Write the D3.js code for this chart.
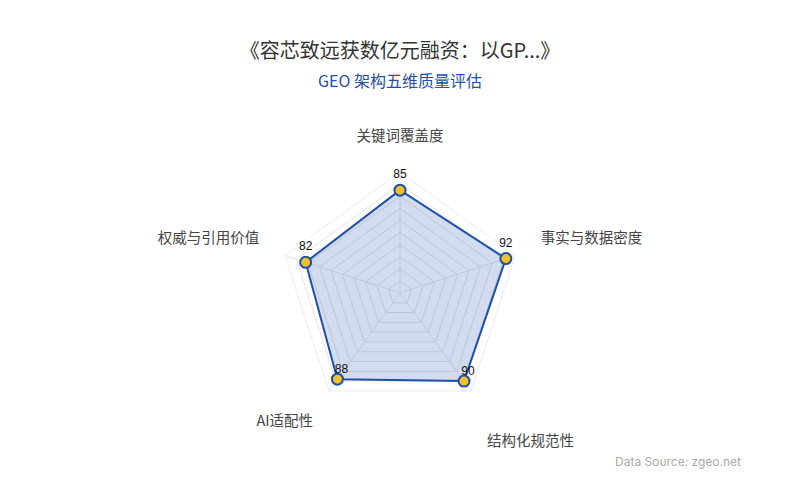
<!DOCTYPE html>
<meta charset="utf-8">
<title>GEO 架构五维质量评估</title>
<style>
  body { margin: 0; background: #fff; }
  svg { display: block; font-family: "Noto Sans CJK SC", "Noto Sans", sans-serif; }
</style>
<body>
<svg id="chart" width="800" height="500"></svg>
<script src="https://cdn.jsdelivr.net/npm/d3@7"></script>
<script>
// data
var indicators = ["关键词覆盖度", "事实与数据密度", "结构化规范性", "AI适配性", "权威与引用价值"];
var scores = [85, 92, 90, 88, 82];
var maxScore = 100;
var splitCount = 10;
var titleText = "《容芯致远获数亿元融资：以GP...》";
var subtitleText = "GEO 架构五维质量评估";
var sourceText = "Data Source: zgeo.net";

var svg = d3.select("#chart"),
    width = +svg.attr("width");

var cx = 400, cy = 293, R = 121;

var r = d3.scaleLinear().domain([0, maxScore]).range([0, R]);
var angle = d3.scaleLinear().domain([0, indicators.length]).range([0, 2 * Math.PI]);

function pt(i, v) {
  var a = angle(i);
  return [cx + Math.sin(a) * r(v), cy - Math.cos(a) * r(v)];
}

var g = svg.append("g");

// rings
var ringVals = d3.range(1, splitCount + 1).map(function(k) { return maxScore * k / splitCount; });
g.selectAll("path.ring")
  .data(ringVals)
  .enter().append("path")
    .attr("class", "ring")
    .attr("d", function(v) {
      return d3.line()(indicators.map(function(d, i) { return pt(i, v); })) + "Z";
    })
    .attr("fill", "none")
    .attr("stroke", "#dcdfe6")
    .attr("stroke-width", 1)
    .attr("stroke-opacity", function(v) { return v === maxScore ? 0.6 : 0.8; });

// spokes
g.selectAll("line.axis")
  .data(indicators)
  .enter().append("line")
    .attr("x1", cx).attr("y1", cy)
    .attr("x2", function(d, i) { return pt(i, maxScore)[0]; })
    .attr("y2", function(d, i) { return pt(i, maxScore)[1]; })
    .attr("stroke", "#e3e6ec")
    .attr("stroke-width", 1);

// area
var poly = scores.map(function(v, i) { return pt(i, v); });
g.append("path")
  .attr("d", d3.line()(poly) + "Z")
  .attr("fill", "#1f4fa8")
  .attr("fill-opacity", 0.2)
  .attr("stroke", "#1f4fa8")
  .attr("stroke-width", 2)
  .attr("stroke-linejoin", "round");

// points
g.selectAll("circle.pt")
  .data(scores)
  .enter().append("circle")
    .attr("cx", function(d, i) { return pt(i, d)[0]; })
    .attr("cy", function(d, i) { return pt(i, d)[1]; })
    .attr("r", 5.5)
    .attr("fill", "#f2c029")
    .attr("stroke", "#1f4fa8")
    .attr("stroke-width", 2);

// value labels
g.selectAll("text.val")
  .data(scores)
  .enter().append("text")
    .attr("x", function(d, i) { return pt(i, d)[0] + (pt(i, d)[1] > cy ? 4 : 0); })
    .attr("y", function(d, i) { return pt(i, d)[1] - (pt(i, d)[1] > cy ? 6 : 12); })
    .attr("text-anchor", "middle")
    .attr("font-family", "'Liberation Sans', Arial, sans-serif")
    .attr("font-size", 12)
    .attr("fill", "#111")
    .text(function(d) { return d; });

// indicator names
var nameR = 148;
var nameNudge = [0, 0, 20, 0, 0];
g.selectAll("text.name")
  .data(indicators)
  .enter().append("text")
    .attr("x", function(d, i) { return pt(i, maxScore * nameR / R)[0]; })
    .attr("y", function(d, i) { return pt(i, maxScore * nameR / R)[1] + nameNudge[i]; })
    .attr("text-anchor", function(d, i) {
      var x = pt(i, maxScore)[0];
      return Math.abs(x - cx) < 1 ? "middle" : (x > cx ? "start" : "end");
    })
    .attr("dy", function(d, i) { return pt(i, maxScore)[1] > cy ? "0.9em" : "-0.3em"; })
    .attr("font-size", 14.5)
    .attr("fill", "#444")
    .text(function(d) { return d; });

// titles
svg.append("text")
  .attr("x", width / 2).attr("y", 58)
  .attr("text-anchor", "middle")
  .attr("font-size", 20)
  .attr("fill", "#333")
  .text(titleText);

svg.append("text")
  .attr("x", width / 2).attr("y", 87)
  .attr("text-anchor", "middle")
  .attr("font-size", 16)
  .attr("fill", "#1f4fa8")
  .text(subtitleText);

svg.append("text")
  .attr("x", 741).attr("y", 466)
  .attr("text-anchor", "end")
  .attr("font-family", "Inter, 'Noto Sans', sans-serif")
  .attr("font-size", 12)
  .attr("fill", "#aaa")
  .text(sourceText);
</script>
</body>
